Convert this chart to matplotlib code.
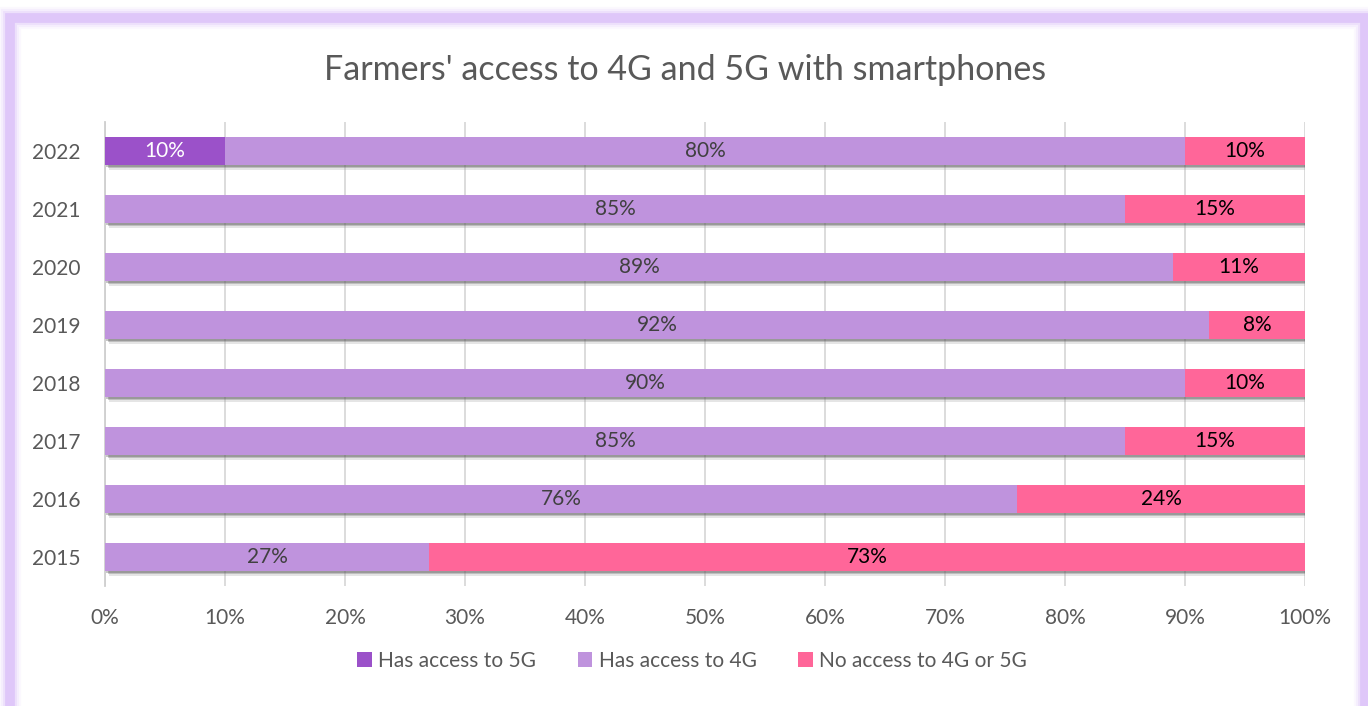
import matplotlib.pyplot as plt
import matplotlib.patheffects as pe
from matplotlib.patches import Patch, Rectangle
from matplotlib.ticker import PercentFormatter

years = ["2015", "2016", "2017", "2018", "2019", "2020", "2021", "2022"]
access_5g = [0, 0, 0, 0, 0, 0, 0, 10]
access_4g = [27, 76, 85, 90, 92, 89, 85, 80]
no_access = [73, 24, 15, 10, 8, 11, 15, 10]

series = [
    ("Has access to 5G", access_5g, "#9b51c9", "white"),
    ("Has access to 4G", access_4g, "#bf93dd", "#404040"),
    ("No access to 4G or 5G", no_access, "#ff6699", "black"),
]

plt.rcParams["font.family"] = ["Lato", "DejaVu Sans"]

fig = plt.figure(figsize=(13.68, 7.06), dpi=100)
ax = fig.add_axes([0.0768, 0.170, 0.8772, 0.6572])

# soft glowing frame around the whole chart
for lw, a in [(16, 0.12), (13, 0.2), (10, 0.35), (7, 1.0)]:
    fig.patches.append(Rectangle((10 / 1368, -0.05), 1355 / 1368, 1 - 18 / 706 + 0.05,
                                 transform=fig.transFigure, fill=False,
                                 edgecolor="#dfc7f9", linewidth=lw, alpha=a,
                                 zorder=-5))

shadow = [pe.SimplePatchShadow(offset=(3, -4), shadow_rgbFace="#9a9a9a", alpha=0.25),
          pe.SimplePatchShadow(offset=(2, -2.5), shadow_rgbFace="#666666", alpha=0.3),
          pe.SimplePatchShadow(offset=(1, -1.2), shadow_rgbFace="#444444", alpha=0.3),
          pe.Normal()]

left = [0] * len(years)
for name, vals, color, txt in series:
    bars = ax.barh(years, vals, left=left, height=0.48, color=color, zorder=3)
    for b, v, l in zip(bars, vals, left):
        if v > 0:
            b.set_path_effects(shadow)
            ax.text(l + v / 2, b.get_y() + b.get_height() / 2, f"{v}%",
                    ha="center", va="center", fontsize=15, color=txt, zorder=5)
    left = [a + b for a, b in zip(left, vals)]

ax.set_xlim(0, 100)
ax.set_ylim(-0.5, 7.5)
ax.set_xticks(range(0, 101, 10))
ax.xaxis.set_major_formatter(PercentFormatter(decimals=0))
ax.grid(axis="x", color="#d9d9d9", linewidth=1.3, zorder=0)
ax.set_axisbelow(True)
for s in ["top", "right", "bottom"]:
    ax.spines[s].set_visible(False)
ax.spines["left"].set_color("#cfcfcf")
ax.spines["left"].set_linewidth(1.3)
ax.tick_params(axis="both", length=0, labelsize=15, labelcolor="#595959")
ax.tick_params(axis="x", pad=16)
ax.tick_params(axis="y", pad=18)

fig.text(0.5008, 1 - 70 / 706, "Farmers' access to 4G and 5G with smartphones",
         ha="center", va="center", fontsize=24.5, color="#595959")

handles = [Patch(facecolor=c, label=n) for n, _, c, _ in series]
fig.legend(handles=handles, loc="center", bbox_to_anchor=(0.506, 1 - 661 / 706),
           ncol=3, frameon=False, fontsize=15, labelcolor="#595959",
           handlelength=0.7, handleheight=0.7, handletextpad=0.3,
           columnspacing=2.0)

fig.savefig("out.png", dpi=100)
